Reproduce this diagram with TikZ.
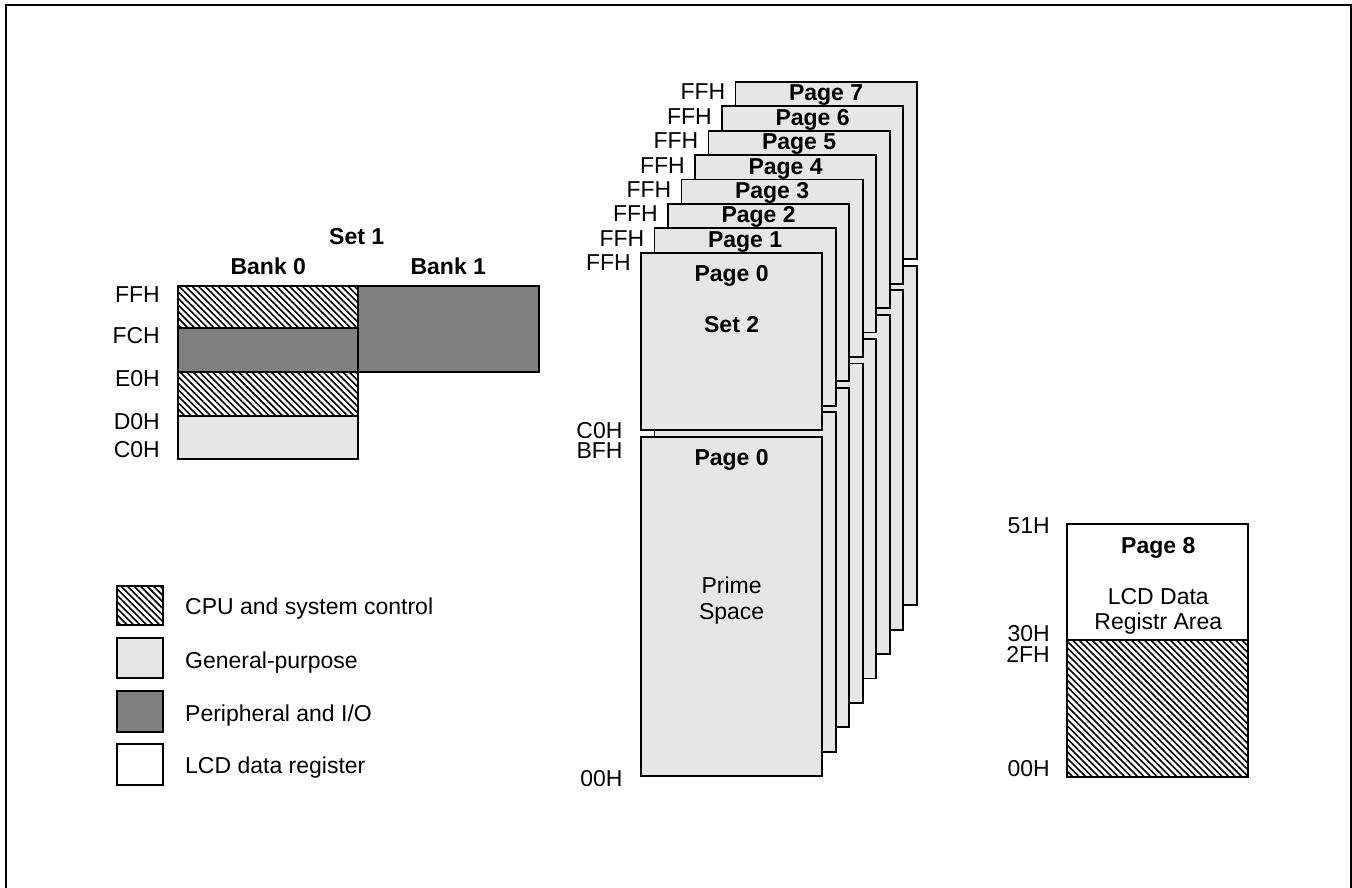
\documentclass[tikz,border=0pt]{standalone}
\usepackage{fontspec}
\setmainfont{Liberation Sans}
\usetikzlibrary{patterns.meta}
\definecolor{lgray}{RGB}{230,230,230}
\definecolor{dgray}{RGB}{128,128,128}
\newcommand\fsz{\fontsize{23}{27}\selectfont}
\begin{document}
\begin{tikzpicture}[x=1pt,y=-1pt,
  box/.style={draw=black, line width=1.8pt},
  hatchbox/.style={box, pattern={Lines[angle=-45,distance=4.6pt,line width=1.6pt]}, pattern color=black},
  lightbox/.style={box, fill=lgray},
  darkbox/.style={box, fill=dgray},
  whitebox/.style={box, fill=white},
  lbl/.style={font=\fsz, inner sep=0pt},
  blbl/.style={font=\fsz\bfseries, inner sep=0pt}]
\useasboundingbox (0,0) rectangle (1352,888);
% outer frame
\draw[line width=2pt] (5.5,895) -- (5.5,5.3) -- (1350.5,5.3) -- (1350.5,895);

% ---------- Set 1 ----------
\draw[hatchbox] (177.7,285.7) rectangle (358.3,328.3);
\draw[darkbox]  (177.7,328.3) rectangle (358.3,372.3);
\draw[hatchbox] (177.7,372.3) rectangle (358.3,415.7);
\draw[lightbox] (177.7,415.7) rectangle (358.3,459);
\draw[darkbox]  (358.3,285.7) rectangle (539.3,372.3);
\node[blbl, anchor=base] (set1) at (356.7,244.7) {Set 1};
\node[blbl, anchor=base] (bank0) at (268.3,274.7) {Bank 0};
\node[blbl, anchor=base] (bank1) at (448.3,274.7) {Bank 1};
\node[lbl, anchor=base east] (s1ffh) at (160,302.3) {FFH};
\node[lbl, anchor=base east] (s1fch) at (160,343) {FCH};
\node[lbl, anchor=base east] (s1e0h) at (160,386.3) {E0H};
\node[lbl, anchor=base east] (s1d0h) at (160,429) {D0H};
\node[lbl, anchor=base east] (s1c0h) at (160,457.3) {C0H};

% ---------- Legend ----------
\draw[hatchbox] (116.7,586) rectangle (163.3,625);
\draw[lightbox] (116.7,637.7) rectangle (163.3,678.3);
\draw[darkbox]  (116.7,691) rectangle (163.3,731.7);
\draw[whitebox] (116.7,744.3) rectangle (163.3,785);
\node[lbl, anchor=base west] (lg1) at (185,614.7) {CPU and system control};
\node[lbl, anchor=base west] (lg2) at (185,668) {General-purpose};
\node[lbl, anchor=base west] (lg3) at (185,721.3) {Peripheral and I/O};
\node[lbl, anchor=base west] (lg4) at (185,773) {LCD data register};

% ---------- Page stack ----------
\foreach \k in {7,6,5,4,3,2,1,0} {
  \pgfmathsetmacro\lx{641+13.5*\k}
  \pgfmathsetmacro\rx{822.3+13.5*\k}
  \pgfmathsetmacro\ty{252.7-24.4*\k}
  \pgfmathsetmacro\my{430-24.4*\k}
  \pgfmathsetmacro\ny{436.7-24.4*\k}
  \pgfmathsetmacro\by{776-24.4*\k}
  \draw[lightbox] (\lx,\ny) rectangle (\rx,\by);
  \draw[lightbox] (\lx,\ty) rectangle (\rx,\my);
  \node[lbl, anchor=base east] (ffh\k) at (\lx-10,\ty+18) {FFH};
  \ifnum\k>0
    \node[blbl, anchor=base] (pg\k) at (\lx+90.6,\ty+19) {Page \k};
  \fi
}
\node[blbl, anchor=base] (pg0a) at (731.6,281.3) {Page 0};
\node[blbl, anchor=base] (set2) at (731.6,332) {Set 2};
\node[blbl, anchor=base] (pg0b) at (731.6,465.3) {Page 0};
\node[lbl, anchor=base] (prime) at (731.6,593) {Prime};
\node[lbl, anchor=base] (space) at (731.6,619.7) {Space};
\node[lbl, anchor=base east] (c0h) at (622.7,438) {C0H};
\node[lbl, anchor=base east] (bfh) at (622.7,458.7) {BFH};
\node[lbl, anchor=base east] (z00h) at (622.7,786.3) {00H};

% ---------- Page 8 ----------
\draw[whitebox] (1067.3,524) rectangle (1248.3,640);
\draw[hatchbox] (1067.3,640) rectangle (1248.3,776.7);
\node[blbl, anchor=base] (pg8) at (1158.3,553) {Page 8};
\node[lbl, anchor=base] (lcd1) at (1158.3,604) {LCD Data};
\node[lbl, anchor=base] (lcd2) at (1158.3,629.7) {Registr Area};
\node[lbl, anchor=base east] (h51) at (1050,533) {51H};
\node[lbl, anchor=base east] (h30) at (1050,641.3) {30H};
\node[lbl, anchor=base east] (h2f) at (1050,662) {2FH};
\node[lbl, anchor=base east] (h00) at (1050,776.3) {00H};
\end{tikzpicture}
\end{document}
